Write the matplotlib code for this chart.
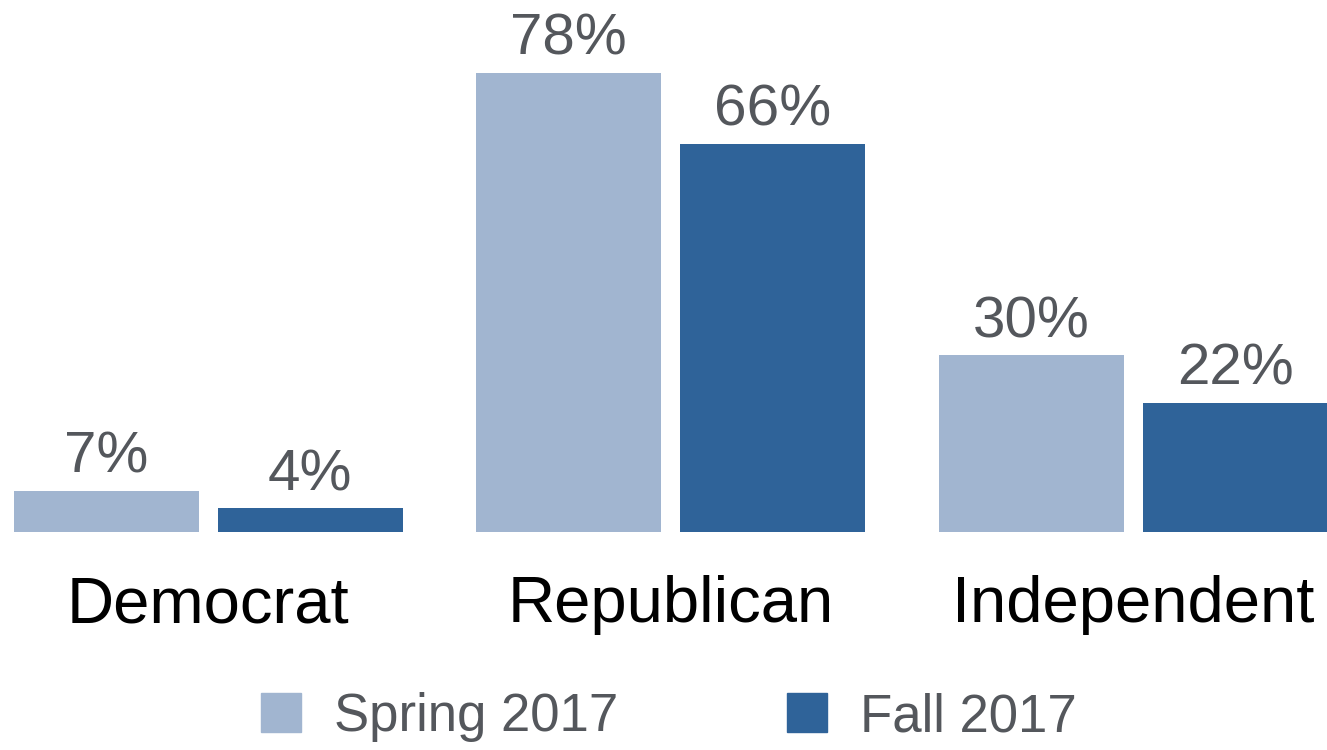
import numpy as np
import matplotlib
matplotlib.use("Agg")
import matplotlib.pyplot as plt
from matplotlib.patches import Patch

# survey data
parties = ["Democrat", "Republican", "Independent"]
series = ["Spring 2017", "Fall 2017"]
spring = [7, 78, 30]
fall = [4, 66, 22]
colors = ["#A1B5D0", "#2F6399"]

plt.rcParams['font.family'] = ['Liberation Sans', 'DejaVu Sans']

fig = plt.figure(figsize=(13.27, 7.5), dpi=100)
ax = fig.add_axes([0, 0, 1, 1])

x = np.arange(len(parties))
w = 0.4
off = 0.2205
for vals, dx, col in [(spring, -off, colors[0]), (fall, off, colors[1])]:
    bars = ax.bar(x + dx, vals, width=w, color=col)
    for b, v in zip(bars, vals):
        ax.annotate(f"{v}%", (b.get_x() + b.get_width() / 2, v),
                    xytext=(0, 13), textcoords="offset points",
                    ha="center", va="baseline", fontsize=42, color="#54575C")

for xi, name in zip(x, parties):
    ax.text(xi, -15.3, name, ha="center", va="baseline", fontsize=47, color="black")

ax.set_xlim(-0.4497, 2.419)
ax.set_ylim(-37.04, 90.4)
ax.axis("off")

handles = [Patch(color=c, label=s) for c, s in zip(colors, series)]
leg = fig.legend(handles=handles, loc="center", bbox_to_anchor=(0.504, 0.044),
                 ncol=2, frameon=False, fontsize=38, handlelength=0.76,
                 handleheight=0.76, handletextpad=0.62, columnspacing=3.2,
                 borderpad=0, borderaxespad=0)
for t in leg.get_texts():
    t.set_color("#54575C")

fig.savefig("out.png", dpi=100)
